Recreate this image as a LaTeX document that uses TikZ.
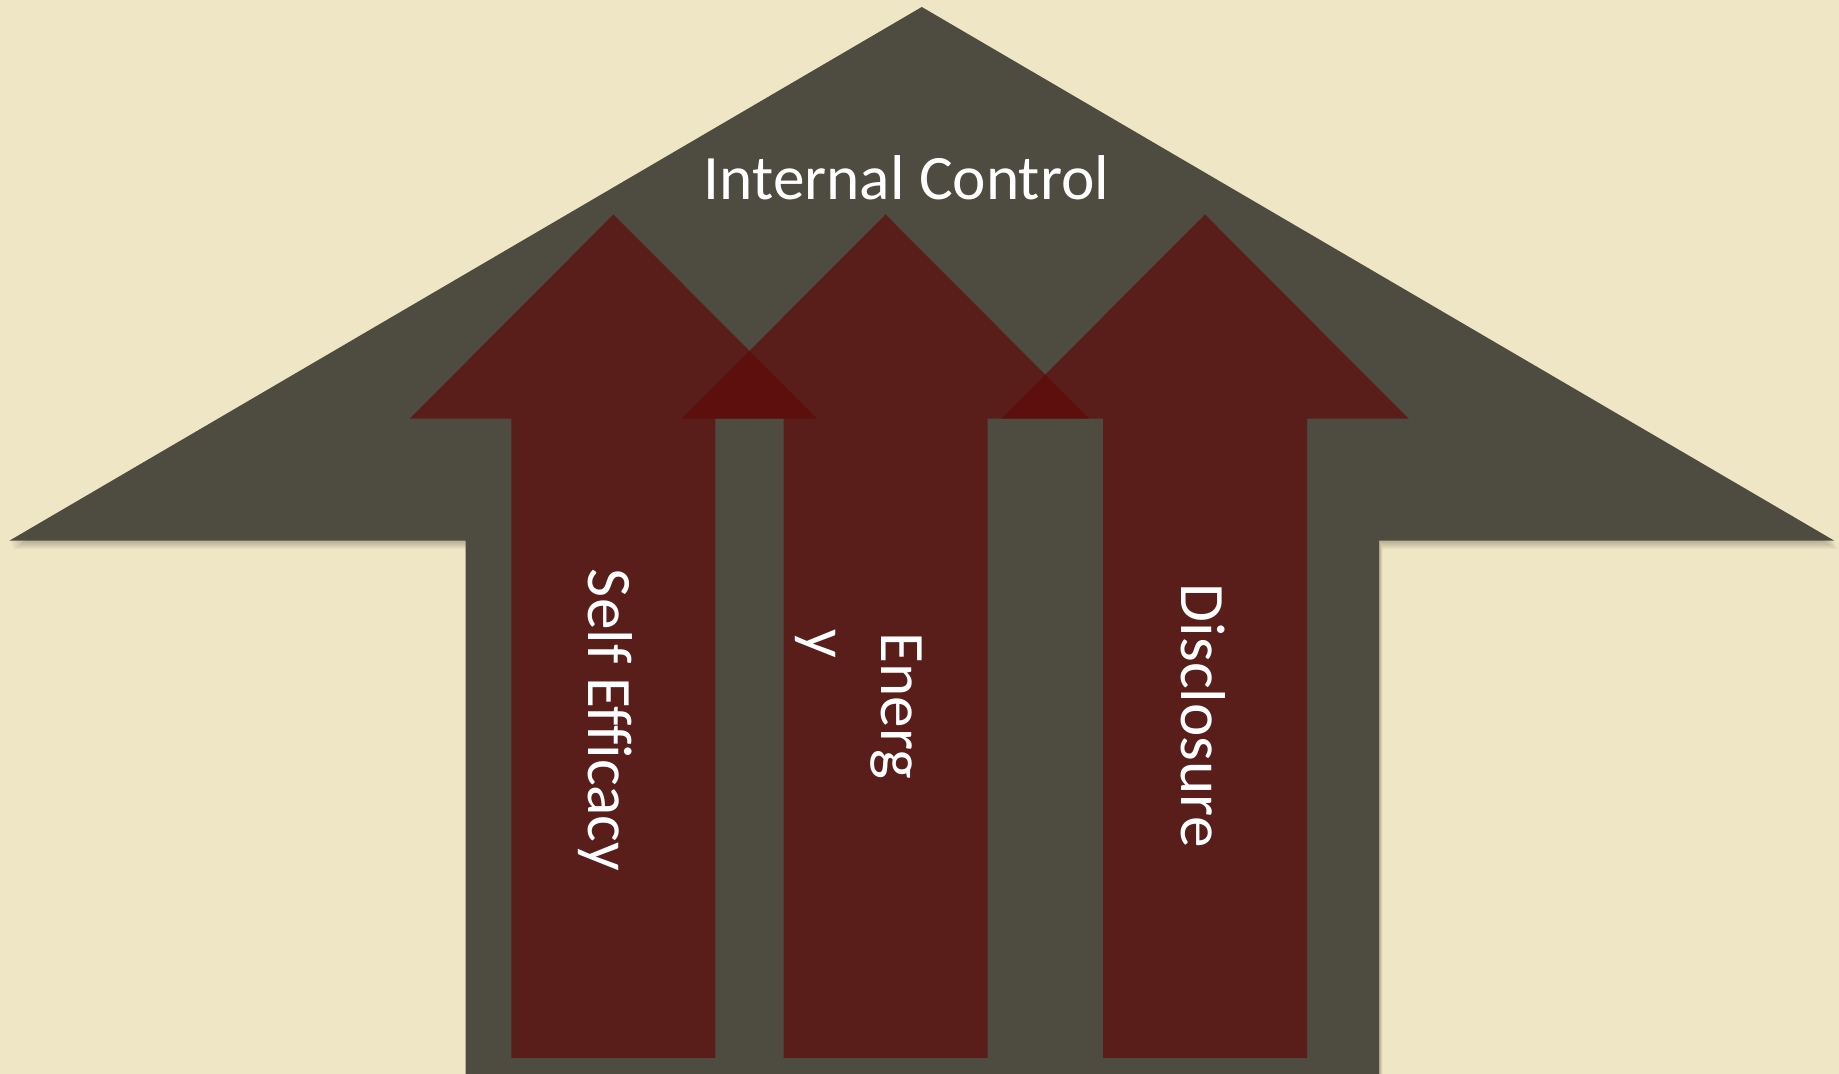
\documentclass[tikz,border=0pt]{standalone}
\usepackage{fontspec}
\setmainfont{Carlito}[Ligatures=NoCommon]
\definecolor{bg}{RGB}{238,230,196}
\definecolor{house}{RGB}{78,76,64}
\definecolor{arrowred}{RGB}{95,10,10}
\begin{document}
\begin{tikzpicture}[x=0.01cm,y=-0.01cm,
  arrowshape/.style={fill=arrowred,fill opacity=0.7},
  lbl/.style={text=white,inner sep=0pt,font=\fontsize{18}{22}\selectfont},
  vlbl/.style={lbl,rotate=-90,anchor=base west}]
\fill[bg] (0,0) rectangle (1839,1074);
\useasboundingbox (0,0) rectangle (1839,1074);
\def\housepath{(921.8,7) -- (1834.3,540.7) -- (1379.2,540.7) -- (1379.2,1074)
  -- (465.6,1074) -- (465.6,540.7) -- (9.4,540.7) -- cycle}
\foreach \d in {2,4,6,8} {
  \fill[black,fill opacity=0.06,shift={(\d*0.4,\d)}] \housepath;
}
\fill[house] \housepath;
\foreach \c in {613.4,885.5,1205} {
  \fill[arrowshape] (\c,214.5) -- (\c+203.7,418.7) -- (\c+102,418.7)
    -- (\c+102,1057.8) -- (\c-102,1057.8) -- (\c-102,418.7)
    -- (\c-203.7,418.7) -- cycle;
}
\node[lbl,anchor=base] (ic) at (906.5,200) {Internal Control};
\node[vlbl] (se) at (588.3,568.3) {Self Efficacy};
\node[vlbl] (en1) at (881.7,631.7) {Energ};
\node[vlbl] (en2) at (805,629) {y};
\node[vlbl] (di) at (1181.7,583.3) {Disclosure};
\end{tikzpicture}
\end{document}
